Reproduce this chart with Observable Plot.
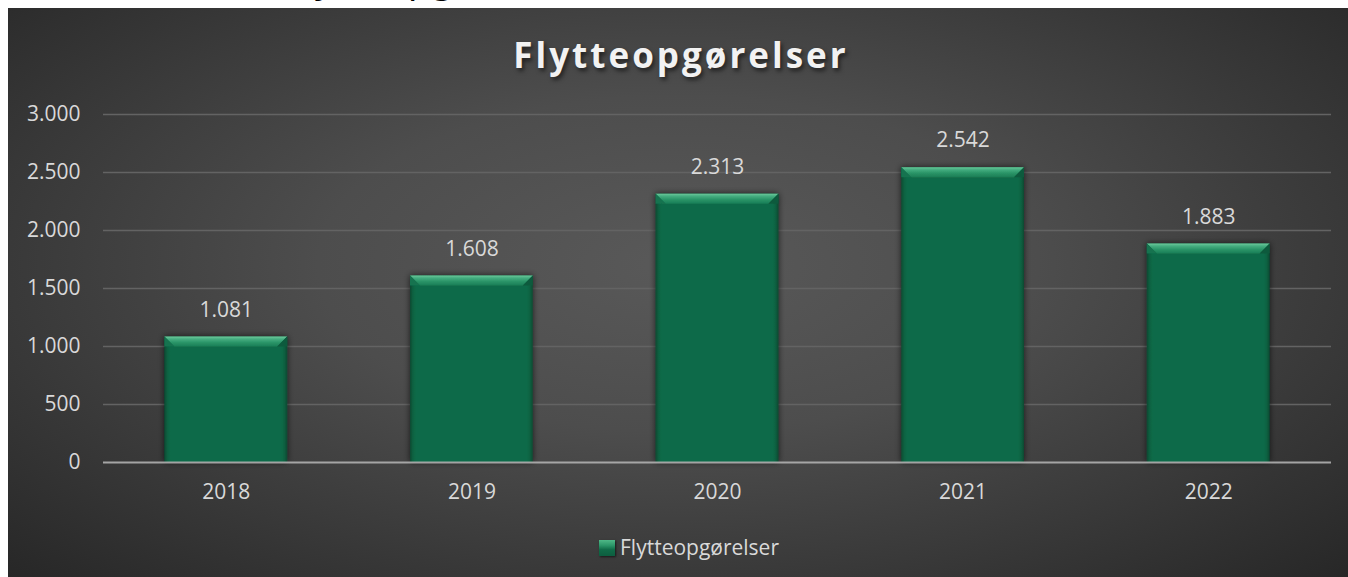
<!DOCTYPE html>
<html>
<head>
<meta charset="utf-8">
<script src="https://cdn.jsdelivr.net/npm/d3@7"></script>
<script src="https://cdn.jsdelivr.net/npm/@observablehq/plot@0.6"></script>
<style>
  html, body { margin: 0; padding: 0; background: #ffffff; width: 1348px; height: 577px; overflow: hidden; font-family: "Open Sans", sans-serif; }
  #topcrop { position: absolute; left: 0; top: 0; width: 1348px; height: 8px; overflow: hidden; }
  #topcrop span { position: absolute; left: 285px; top: -43px; font-size: 39px; line-height: 1; color: #000; white-space: nowrap; }
  #panel { position: absolute; left: 8px; top: 8px; width: 1340px; height: 569px; overflow: hidden;
    background: radial-gradient(ellipse farthest-corner at 50% 45%, #595959 0%, #4d4d4d 38%, #272727 100%); }
  #title { position: absolute; left: 3px; top: 29px; width: 1340px; text-align: center; font-size: 35px; line-height: 1;
    font-weight: 700; letter-spacing: 3px; color: #f2f2f2; text-shadow: 2px 3px 4px rgba(0,0,0,0.55); }
  #chart { position: absolute; left: 0; top: 72px; }
  #legend { position: absolute; left: 591px; top: 529px; display: flex; align-items: center; gap: 5px; font-size: 21px; line-height: 1; color: #d9d9d9; }
  #legend .sw { width: 16px; height: 16px; box-sizing: border-box; background: linear-gradient(180deg, #4fb887 0%, #2a9467 35%, #106b48 60%, #0d5e3f 100%); box-shadow: 1px 1px 2px rgba(0,0,0,0.6); }
</style>
</head>
<body>
<div id="topcrop"><span>Flytteopgørelser</span></div>
<div id="panel">
  <div id="title">Flytteopgørelser</div>
  <div id="chart"></div>
  <div id="legend"><div class="sw"></div><span id="legendText"></span></div>
</div>
<script>
const seriesName = "Flytteopgørelser";
const years = ["2018", "2019", "2020", "2021", "2022"];
const values = [1081, 1608, 2313, 2542, 1883];
const yTicks = [0, 500, 1000, 1500, 2000, 2500, 3000];

const data = years.map((year, i) => ({year, value: values[i]}));
const fmt = d3.formatLocale({decimal: ",", thousands: ".", grouping: [3], currency: ["", " kr"]}).format(",");

document.getElementById("legendText").textContent = seriesName;

const plot = Plot.plot({
  width: 1340,
  height: 432,
  marginTop: 34,
  marginBottom: 50,
  marginLeft: 95,
  marginRight: 17,
  style: {background: "transparent", color: "#d9d9d9", fontFamily: "Open Sans", fontSize: "21px", overflow: "visible"},
  x: {domain: years, paddingInner: 0.5, paddingOuter: 0.25, round: false, label: null, tickSize: 0, tickPadding: 22},
  y: {domain: [0, 3000], ticks: yTicks, tickFormat: fmt, label: null, tickSize: 0, tickPadding: 23},
  marks: [
    Plot.ruleY(yTicks.filter(d => d > 0), {stroke: "#636363", strokeWidth: 1.5}),
    Plot.barY(data, {x: "year", y: "value", fill: "url(#barBody)"}),
    Plot.ruleY([0], {stroke: "#b0b0b0", strokeWidth: 2, strokeOpacity: 0.9}),
    Plot.text(data, {x: "year", y: "value", text: d => fmt(d.value), dy: -27, fill: "#d9d9d9", fontSize: 21})
  ]
});

// gradients and shadow
const svg = d3.select(plot);
const defs = svg.insert("defs", ":first-child");
const body = defs.append("linearGradient").attr("id", "barBody").attr("x1", 0).attr("x2", 1).attr("y1", 0).attr("y2", 0);
[[0, "#094a31"], [0.025, "#0e6242"], [0.05, "#106b48"], [0.95, "#106b48"], [0.975, "#0e6242"], [1, "#094a31"]]
  .forEach(([o, c]) => body.append("stop").attr("offset", o).attr("stop-color", c));
const cap = defs.append("linearGradient").attr("id", "barCap").attr("x1", 0).attr("x2", 0).attr("y1", 0).attr("y2", 1);
[[0, "#6cc99b"], [0.25, "#45ad80"], [0.6, "#2a9467"], [1, "#1a7d56"]]
  .forEach(([o, c]) => cap.append("stop").attr("offset", o).attr("stop-color", c));
const f = defs.append("filter").attr("id", "barShadow").attr("x", "-20%").attr("y", "-20%").attr("width", "140%").attr("height", "140%");
f.append("feDropShadow").attr("dx", 0).attr("dy", 0).attr("stdDeviation", 3).attr("flood-color", "#000").attr("flood-opacity", 0.65);

const barG = svg.select("g[aria-label=bar]");
barG.attr("filter", "url(#barShadow)");
const bevel = barG.append("g");
barG.selectAll("rect").each(function() {
  const r = d3.select(this);
  const x = +r.attr("x"), y = +r.attr("y"), w = +r.attr("width");
  const b = 10;
  bevel.append("polygon")
    .attr("points", [[x, y], [x + w, y], [x + w - b, y + b], [x + b, y + b]].map(p => p.join(",")).join(" "))
    .attr("fill", "url(#barCap)");
  bevel.append("polygon")
    .attr("points", [[x, y], [x + b, y + b], [x, y + b]].map(p => p.join(",")).join(" "))
    .attr("fill", "#137350");
  bevel.append("polygon")
    .attr("points", [[x + w, y], [x + w - b, y + b], [x + w, y + b]].map(p => p.join(",")).join(" "))
    .attr("fill", "#0c5a3c");
});

document.getElementById("chart").appendChild(plot);
</script>
</body>
</html>
